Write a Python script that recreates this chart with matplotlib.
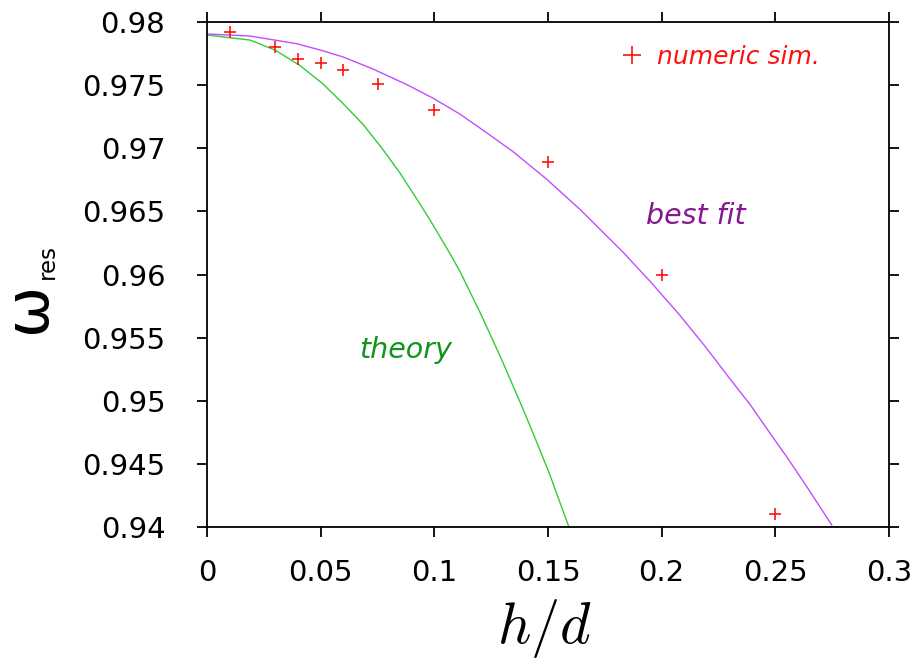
import matplotlib
matplotlib.use('Agg')
import matplotlib.pyplot as plt

# numeric simulation points
h_sim = [0.01, 0.03, 0.04, 0.05, 0.06, 0.075, 0.1, 0.15, 0.2, 0.25]
w_sim = [0.9792, 0.9780, 0.9771, 0.97675, 0.9762, 0.9751, 0.9730, 0.9689, 0.9600, 0.9410]

# theory curve
h_theory = [0.0, 0.0189, 0.0299, 0.0409, 0.0510, 0.0598, 0.0686, 0.0770, 0.0849,
            0.0924, 0.0981, 0.1069, 0.1113, 0.1201, 0.1289, 0.1377, 0.1434,
            0.1509, 0.1592]
w_theory = [0.97897, 0.97857, 0.97778, 0.97655, 0.97510, 0.97355, 0.97190,
            0.96999, 0.96803, 0.96595, 0.96432, 0.96165, 0.96023, 0.95700,
            0.95355, 0.94990, 0.94745, 0.94410, 0.94000]

# best fit curve
h_fit = [0.0, 0.0189, 0.0395, 0.0512, 0.0600, 0.0732, 0.0878, 0.0996, 0.1113,
         0.1230, 0.1347, 0.1494, 0.1641, 0.1831, 0.1949, 0.2073, 0.2191,
         0.2301, 0.2389, 0.2477, 0.2550, 0.2638, 0.2748]
w_fit = [0.97905, 0.97889, 0.97828, 0.97771, 0.97722, 0.97626, 0.97505,
         0.97395, 0.97270, 0.97123, 0.96972, 0.96755, 0.96515, 0.96175,
         0.95946, 0.95692, 0.95431, 0.95172, 0.94970, 0.94742, 0.94556,
         0.94320, 0.94016]

x_ticks = [0, 0.05, 0.1, 0.15, 0.2, 0.25, 0.3]
x_ticklabels = ['0', '0.05', '0.1', '0.15', '0.2', '0.25', '0.3']
y_ticks = [0.94, 0.945, 0.95, 0.955, 0.96, 0.965, 0.97, 0.975, 0.98]
y_ticklabels = ['0.94', '0.945', '0.95', '0.955', '0.96', '0.965', '0.97', '0.975', '0.98']

fig = plt.figure(figsize=(9.18, 6.62), dpi=100)
ax = fig.add_axes([207 / 918, 135 / 662, 682 / 918, 505 / 662])

ax.plot(h_theory, w_theory, color='#33cc33', lw=1.0)
ax.plot(h_fit, w_fit, color='#c44cff', lw=1.0)
sim, = ax.plot(h_sim, w_sim, ls='none', marker='+', color='#ff1010',
               ms=9, mew=1.2, label='numeric sim.')

ax.set_xlim(0, 0.3)
ax.set_ylim(0.94, 0.98)
ax.set_xticks(x_ticks)
ax.set_xticklabels(x_ticklabels)
ax.set_yticks(y_ticks)
ax.set_yticklabels(y_ticklabels)
ax.tick_params(direction='out', length=7, width=1.3, top=True, right=True,
               labelsize=21)
ax.tick_params(axis='x', pad=16)
ax.tick_params(axis='y', pad=23)
for s in ax.spines.values():
    s.set_linewidth(1.3)

ax.text(0.0875, 0.954, 'theory', color='#11941a', fontsize=20.5, style='italic',
        ha='center', va='center')
ax.text(0.2151, 0.9646, 'best fit', color='#86178f', fontsize=20.5, style='italic',
        ha='center', va='center')

leg = ax.legend(handles=[sim], loc='center right', bbox_to_anchor=(0.899, 0.931),
                frameon=False, markerscale=1.45, handlelength=0.8,
                handletextpad=0.6, borderpad=0, borderaxespad=0,
                prop={'size': 18, 'style': 'italic'})
for t in leg.get_texts():
    t.set_color('#ff1010')

fig.text(545 / 918, 1 - 628 / 662, r'$h/d$', fontsize=42, ha='center', va='center',
         math_fontfamily='cm')
fig.text(29 / 918, 1 - 307 / 662, '\u03c9', fontsize=44, rotation=90,
         ha='center', va='center')
fig.text(47 / 918, 1 - 262 / 662, 'res', fontsize=16.5, rotation=90,
         ha='center', va='center')

fig.savefig('out.png', dpi=100)
